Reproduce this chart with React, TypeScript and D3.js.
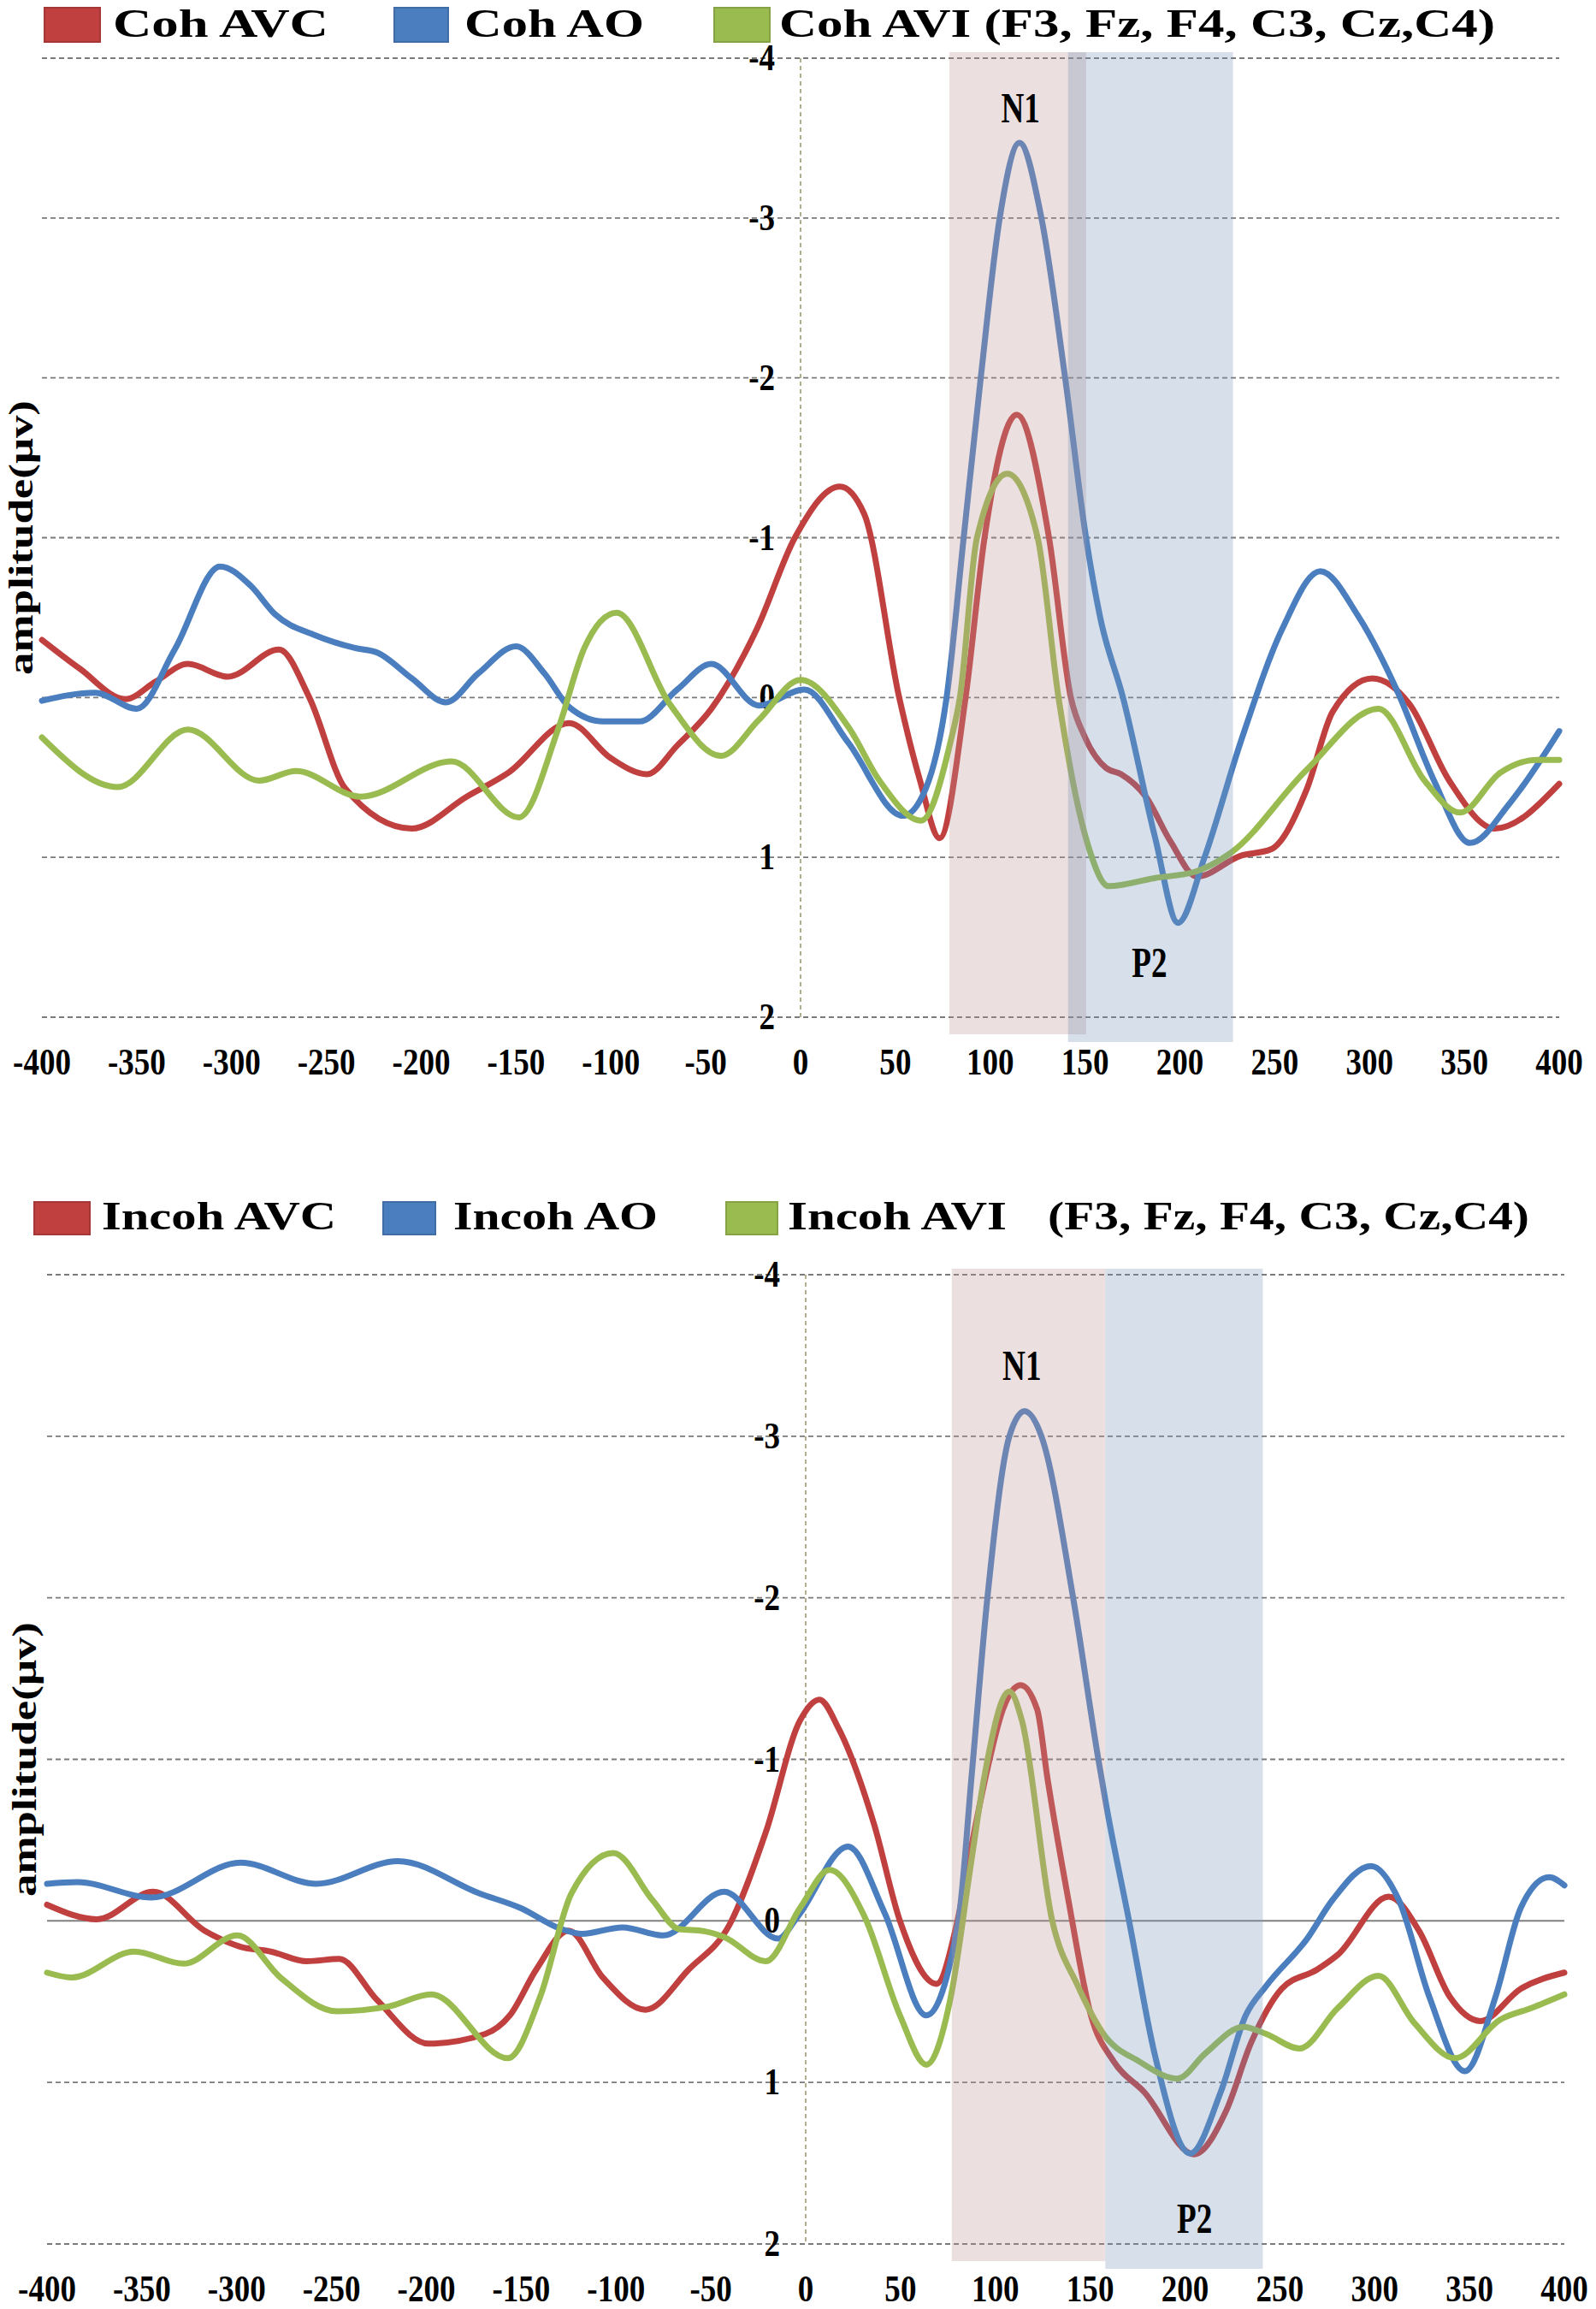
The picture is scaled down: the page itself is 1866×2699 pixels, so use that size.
import React from "react";
import * as d3 from "d3";

type Pt = [number, number];

// time axis (ms) and amplitude axis (µV, negative up)
const timeTicks = d3.range(-400, 401, 50);
const ampTicks = [-4, -3, -2, -1, 0, 1, 2];

// ---- coherent condition ----
const cohAVC: Pt[] = [
  [-400, -0.36], [-380, -0.18], [-356, 0.01], [-340, -0.1], [-323, -0.21], [-302, -0.13],
  [-275, -0.3], [-259, 0], [-240, 0.57], [-205, 0.82], [-176, 0.62], [-154, 0.47],
  [-122, 0.16], [-100, 0.38], [-81, 0.48], [-65, 0.3], [-47, 0.07], [-23, -0.43],
  [-3, -1.0], [20.7, -1.32], [33.5, -1.15], [52, 0], [63, 0.52], [73.3, 0.88],
  [87, 0], [97, -1], [114, -1.77], [131, -1], [142.5, 0], [150, 0.25], [161, 0.44],
  [169, 0.48], [182, 0.62], [195, 0.9], [209, 1.12], [232, 0.99], [248, 0.95],
  [267, 0.57], [280.5, 0.09], [301.5, -0.12], [321, 0.04], [342, 0.52], [366, 0.82],
  [400, 0.54],
];

const cohAO: Pt[] = [
  [-400, 0.02], [-372, -0.03], [-350, 0.07], [-330, -0.3], [-306, -0.82], [-290, -0.7],
  [-277, -0.52], [-256, -0.39], [-235, -0.31], [-223, -0.28], [-205, -0.12], [-187, 0.03],
  [-170, -0.15], [-150, -0.32], [-135, -0.15], [-122, 0.06], [-104, 0.15], [-85, 0.15],
  [-65, -0.05], [-47, -0.21], [-22, 0.05], [2, -0.05], [25, 0.28], [54, 0.74],
  [66, 0.57], [77, 0], [86, -1], [95, -2], [105, -3], [115.4, -3.47], [127, -3],
  [139.5, -2], [150.5, -1], [158, -0.5], [170, 0], [187, 0.88], [199, 1.41],
  [213, 1.0], [232, 0.28], [254, -0.43], [274, -0.79], [294, -0.51], [315, -0.03],
  [334, 0.52], [353, 0.91], [374, 0.66], [400, 0.21],
];

const cohAVI: Pt[] = [
  [-400, 0.25], [-360, 0.56], [-323, 0.2], [-285.5, 0.52], [-266, 0.46], [-232, 0.62],
  [-184, 0.4], [-148.5, 0.75], [-127.6, 0.19], [-114, -0.31], [-97, -0.53], [-69, 0.04],
  [-42, 0.365], [-22, 0.14], [0, -0.11], [25.5, 0.19], [41.6, 0.52], [63.6, 0.77],
  [79, 0.28], [84, 0], [93, -1], [109, -1.4], [125, -1], [136, 0], [151.7, 0.93],
  [162.4, 1.18], [186.6, 1.13], [208, 1.09], [227, 0.97], [267, 0.45], [304.7, 0.07],
  [329, 0.52], [347.7, 0.72], [369, 0.47], [388, 0.39], [400, 0.39],
];

// ---- incoherent condition ----
const incohAVC: Pt[] = [
  [-400, -0.1], [-373.6, -0.01], [-344, -0.18], [-317, 0.06], [-298, 0.16], [-282, 0.19],
  [-263, 0.25], [-246, 0.235], [-226, 0.49], [-199, 0.76], [-169, 0.7], [-156, 0.585],
  [-142, 0.3], [-125, 0.06], [-107, 0.35], [-84.5, 0.55], [-61.6, 0.3], [-40, 0.02],
  [-21, -0.55], [-3, -1.24], [7.2, -1.37], [17.4, -1.19], [36, -0.6], [49.7, 0],
  [69, 0.39], [80, 0], [88, -0.5], [96, -0.95], [104, -1.31], [113.3, -1.46],
  [122, -1.31], [127.5, -0.88], [138.5, -0.13], [150.4, 0.585], [162.4, 0.87],
  [178.5, 1.06], [204.8, 1.445], [221.5, 1.18], [235, 0.75], [251, 0.42], [269.8, 0.3],
  [280.5, 0.21], [307.4, -0.15], [323.5, 0.064], [339.6, 0.47], [355.7, 0.62],
  [377, 0.42], [400, 0.32],
];

const incohAO: Pt[] = [
  [-400, -0.23], [-384, -0.24], [-345, -0.145], [-298, -0.36], [-258, -0.23], [-215, -0.37],
  [-172, -0.17], [-150.4, -0.08], [-129, 0.05], [-118, 0.08], [-96.6, 0.04], [-75, 0.09],
  [-43, -0.18], [-14.6, 0.11], [-4, -0.03], [22.3, -0.46], [41.6, -0.05], [63.6, 0.585],
  [80.5, 0], [87.5, -0.9], [95.8, -2], [107.4, -3], [115.4, -3.155], [124.3, -3],
  [141, -2], [154.3, -1], [158.4, -0.72], [170.5, 0], [183.9, 0.82], [202.7, 1.44],
  [218.8, 1.06], [232, 0.585], [243, 0.4], [264.4, 0.11], [277.8, -0.13], [298, -0.34],
  [312.7, -0.13], [328.8, 0.47], [347.6, 0.93], [363.7, 0.47], [377, -0.08],
  [392, -0.27], [400, -0.22],
];

const incohAVI: Pt[] = [
  [-400, 0.32], [-387, 0.35], [-354, 0.19], [-328, 0.265], [-299.7, 0.09], [-277, 0.35],
  [-247, 0.56], [-220, 0.53], [-197.5, 0.455], [-157, 0.85], [-140, 0.47], [-123.5, -0.17],
  [-101.4, -0.42], [-80.5, -0.125], [-67, 0.05], [-53.6, 0.064], [-43, 0.1], [-21, 0.25],
  [-3, -0.08], [12.6, -0.315], [30.9, -0.03], [49.7, 0.585], [63.6, 0.89], [76.5, 0.47],
  [87.2, -0.36], [94, -0.88], [107.4, -1.42], [114, -1.24], [130, 0], [143.4, 0.4],
  [157, 0.7], [175.8, 0.87], [196, 0.976], [210.7, 0.82], [230.8, 0.656], [242.8, 0.7],
  [260.4, 0.79], [280.5, 0.54], [302, 0.34], [320.8, 0.63], [342.3, 0.85], [366.4, 0.61],
  [382.5, 0.54], [400, 0.455],
];

// N1 / P2 windows (ms)
const cohWindows: [number, number][] = [[78.5, 150.6], [141, 228]];
const incohWindows: [number, number][] = [[77, 158], [158, 241]];

// component labels [ms, µV at baseline]
const cohPeaks: { name: string; t: number; v: number }[] = [
  { name: "N1", t: 116, v: -3.6 },
  { name: "P2", t: 184, v: 1.75 },
];
const incohPeaks: { name: string; t: number; v: number }[] = [
  { name: "N1", t: 114, v: -3.35 },
  { name: "P2", t: 205, v: 1.93 },
];

const RED = "#c0403f";
const BLUE = "#4a7ebf";
const GREEN = "#9abb4f";
const FONT = '"Liberation Serif", "Times New Roman", serif';

interface LegendItem {
  label: string;
  color?: string;
  box?: [number, number];
  text: [number, number];
}

interface PanelProps {
  left: number;
  right: number;
  top: number;
  bottom: number;
  series: { data: Pt[]; color: string }[];
  windows: [number, number][];
  peaks: { name: string; t: number; v: number }[];
  legend: LegendItem[];
  legendBaseline: number;
  boxY: number;
  boxH: number;
  solidZero: boolean;
  labelX: number;
}

// bold serif text, squeezed a little sideways and stretched upward like the original
function TallText({ x, y, size, anchor, sx, sy, children }: {
  x: number; y: number; size: number; anchor: string; sx: number; sy: number; children: React.ReactNode;
}) {
  return (
    <text
      transform={`translate(${x},${y}) scale(${sx},${sy})`}
      textAnchor={anchor}
      fontFamily={FONT}
      fontWeight="bold"
      fontSize={size}
    >
      {children}
    </text>
  );
}

function Panel(p: PanelProps) {
  const x = d3.scaleLinear().domain([-400, 400]).range([p.left, p.right]);
  const y = d3.scaleLinear().domain([-4, 2]).range([p.top, p.bottom]);
  const line = d3
    .line<Pt>()
    .x((d) => x(d[0]))
    .y((d) => y(d[1]))
    .curve(d3.curveMonotoneX);

  const shadeFill = ["rgb(190,150,150)", "rgb(120,150,185)"];
  const shadeExtra = [20, 29];

  return (
    <g>
      {/* gridlines */}
      {ampTicks.map((v) =>
        v === 0 && p.solidZero ? (
          <line key={v} x1={p.left} x2={p.right} y1={y(v)} y2={y(v)} stroke="#7f7f7f" strokeWidth={2} />
        ) : (
          <line
            key={v}
            x1={p.left}
            x2={p.right}
            y1={y(v)}
            y2={y(v)}
            stroke="#7a7a7a"
            strokeWidth={1.8}
            strokeDasharray="6,4"
          />
        )
      )}
      {/* vertical axis at 0 ms */}
      <line
        x1={x(0)}
        x2={x(0)}
        y1={p.top}
        y2={p.bottom}
        stroke="#a09c70"
        strokeWidth={1.6}
        strokeDasharray="5,4"
      />
      {/* amplitude tick labels */}
      {ampTicks.map((v) => (
        <TallText key={v} x={x(0) - 30} y={y(v) + 14} size={39} anchor="end" sx={0.95} sy={1.15}>
          {v}
        </TallText>
      ))}
      {/* time tick labels */}
      {timeTicks.map((t) => (
        <TallText key={t} x={x(t)} y={p.bottom + 67} size={39} anchor="middle" sx={0.95} sy={1.15}>
          {t}
        </TallText>
      ))}
      {/* waveforms */}
      {p.series.map((s, i) => (
        <path
          key={i}
          d={line(s.data) || ""}
          fill="none"
          stroke={s.color}
          strokeWidth={7}
          strokeLinejoin="round"
          strokeLinecap="round"
        />
      ))}
      {/* N1 / P2 windows, laid over the lines */}
      {p.windows.map((w, i) => (
        <rect
          key={i}
          x={x(w[0])}
          width={x(w[1]) - x(w[0])}
          y={p.top - 7}
          height={p.bottom - p.top + 7 + shadeExtra[i]}
          fill={shadeFill[i]}
          opacity={0.3}
        />
      ))}
      {p.peaks.map((k) => (
        <TallText key={k.name} x={x(k.t)} y={y(k.v)} size={40} anchor="middle" sx={0.93} sy={1.25}>
          {k.name}
        </TallText>
      ))}
      {/* y label */}
      <text
        transform={`translate(${p.labelX},${(p.top + p.bottom) / 2}) rotate(-90)`}
        textAnchor="middle"
        fontFamily={FONT}
        fontWeight="bold"
        fontSize={41}
        textLength={321}
        lengthAdjust="spacingAndGlyphs"
      >
        amplitude(μv)
      </text>
      {/* legend */}
      {p.legend.map((it, i) => (
        <g key={i}>
          {it.box && it.color && (
            <rect
              x={it.box[0]}
              y={p.boxY}
              width={it.box[1] - it.box[0]}
              height={p.boxH}
              fill={it.color}
              stroke={d3.color(it.color)?.darker(0.4).formatHex()}
              strokeWidth={2}
            />
          )}
          <text
            x={it.text[0]}
            y={p.legendBaseline}
            fontFamily={FONT}
            fontWeight="bold"
            fontSize={47}
            textLength={it.text[1] - it.text[0]}
            lengthAdjust="spacingAndGlyphs"
          >
            {it.label}
          </text>
        </g>
      ))}
    </g>
  );
}

export default function App() {
  return (
    <svg
      width={1866}
      height={2699}
      style={{ position: "absolute", left: 0, top: 0, background: "#fff" }}
    >
      <rect width={1866} height={2699} fill="#fff" />
      <Panel
        left={49}
        right={1823}
        top={68}
        bottom={1189}
        series={[
          { data: cohAVC, color: RED },
          { data: cohAO, color: BLUE },
          { data: cohAVI, color: GREEN },
        ]}
        windows={cohWindows}
        peaks={cohPeaks}
        legend={[
          { label: "Coh AVC", color: RED, box: [52, 117], text: [132, 384] },
          { label: "Coh AO", color: BLUE, box: [461, 524], text: [543, 753] },
          { label: "Coh AVI (F3, Fz, F4, C3, Cz,C4)", color: GREEN, box: [835, 900], text: [911, 1748] },
        ]}
        legendBaseline={43}
        boxY={9}
        boxH={40}
        solidZero={false}
        labelX={38}
      />
      <Panel
        left={55}
        right={1829}
        top={1490}
        bottom={2623}
        series={[
          { data: incohAVC, color: RED },
          { data: incohAO, color: BLUE },
          { data: incohAVI, color: GREEN },
        ]}
        windows={incohWindows}
        peaks={incohPeaks}
        legend={[
          { label: "Incoh AVC", color: RED, box: [40, 105], text: [119, 393] },
          { label: "Incoh AO", color: BLUE, box: [448, 509], text: [530, 769] },
          { label: "Incoh AVI", color: GREEN, box: [849, 909], text: [921, 1177] },
          { label: "(F3, Fz, F4, C3, Cz,C4)", text: [1225, 1788] },
        ]}
        legendBaseline={1437}
        boxY={1405}
        boxH={38}
        solidZero={true}
        labelX={42}
      />
    </svg>
  );
}
